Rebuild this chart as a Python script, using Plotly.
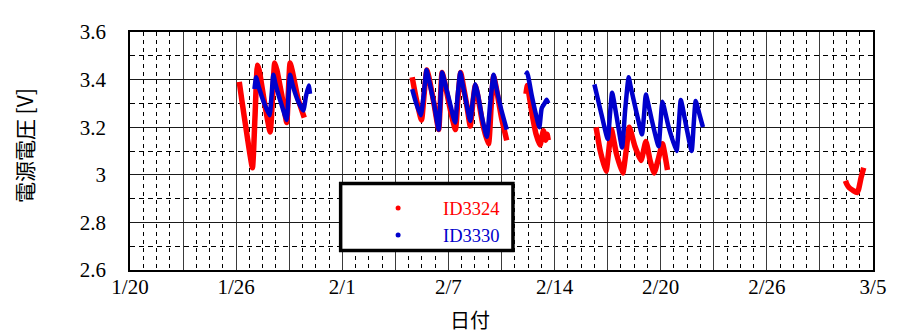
import plotly.graph_objects as go

# x values: days elapsed since 1/20 (axis runs 1/20 .. 3/5, 44 days)
AXIS_DAYS = 44
TICK_LABELS = ["1/20", "1/26", "2/1", "2/7", "2/14", "2/20", "2/26", "3/5"]

# ID3324 (red) - None separates recording periods
id3324_x = [6.47, 6.65, 6.86, 7.05, 7.25, 7.40, 7.55, 7.65, 7.95, 8.30, 8.45, 8.57, 8.70, 9.00, 9.28,
            9.38, 9.48, 9.60, 9.95, 10.32, None,
            16.71, 16.95, 17.26, 17.42, 17.58, 17.70, 18.00, 18.28, 18.38, 18.48, 18.60, 18.95, 19.27,
            19.42, 19.58, 19.70, 19.95, 20.15, 20.30, 20.45, 20.60, 20.90, 21.23, 21.38, 21.53, 21.65,
            22.00, 22.31, None,
            23.45, 23.53, 23.80, 24.05, 24.28, 24.48, 24.62, 24.70, 24.77, None,
            27.60, 27.85, 28.19, 28.35, 28.51, 28.80, 29.18, 29.38, 29.57, 29.90, 30.26, 30.55, 30.80,
            31.04, 31.30, 31.53, 31.83, None,
            42.37, 42.45, 42.60, 42.80, 43.05, 43.15, 43.30, 43.45]
id3324_v = [3.39, 3.30, 3.20, 3.11, 3.03, 3.24, 3.46, 3.44, 3.31, 3.18, 3.34, 3.47, 3.44, 3.33, 3.22,
            3.35, 3.47, 3.44, 3.32, 3.24, None,
            3.41, 3.32, 3.23, 3.34, 3.44, 3.41, 3.30, 3.19, 3.31, 3.43, 3.40, 3.28, 3.19,
            3.32, 3.43, 3.39, 3.29, 3.205, 3.30, 3.375, 3.33, 3.21, 3.13, 3.28, 3.415, 3.38,
            3.24, 3.145, None,
            3.34, 3.375, 3.26, 3.17, 3.125, 3.185, 3.145, 3.17, 3.145, None,
            3.20, 3.10, 3.015, 3.10, 3.19, 3.09, 3.008, 3.10, 3.20, 3.12, 3.06, 3.14, 3.06,
            3.008, 3.07, 3.13, 3.02, None,
            2.975, 2.96, 2.945, 2.935, 2.925, 2.94, 2.99, 3.03]

# ID3330 (blue)
id3330_x = [7.37, 7.47, 7.62, 7.95, 8.26, 8.38, 8.49, 8.62, 8.95, 9.28, 9.38, 9.48, 9.62, 9.95, 10.26,
            10.42, 10.58, 10.66, None,
            16.71, 16.95, 17.22, 17.40, 17.56, 17.70, 18.00, 18.28, 18.38, 18.48, 18.60, 18.95, 19.25,
            19.40, 19.56, 19.70, 19.95, 20.15, 20.30, 20.45, 20.60, 20.85, 21.13, 21.33, 21.53, 21.65,
            22.00, 22.31, None,
            23.45, 23.52, 23.80, 24.05, 24.24, 24.38, 24.55, 24.67, 24.77, None,
            27.50, 27.90, 28.29, 28.42, 28.55, 28.85, 29.14, 29.32, 29.53, 29.65, 30.00, 30.32, 30.45,
            30.55, 30.90, 31.30, 31.42, 31.53, 31.90, 32.36, 32.50, 32.62, 32.95, 33.26, 33.38, 33.50,
            33.70, 33.93]
id3330_v = [3.36, 3.41, 3.37, 3.30, 3.25, 3.33, 3.42, 3.38, 3.30, 3.23, 3.33, 3.42, 3.38, 3.31, 3.27,
            3.33, 3.375, 3.34, None,
            3.36, 3.30, 3.25, 3.34, 3.44, 3.40, 3.30, 3.19, 3.31, 3.43, 3.40, 3.30, 3.22,
            3.33, 3.43, 3.38, 3.29, 3.226, 3.31, 3.38, 3.34, 3.24, 3.16, 3.30, 3.42, 3.38,
            3.27, 3.19, None,
            3.42, 3.43, 3.33, 3.25, 3.20, 3.28, 3.30, 3.315, 3.30, None,
            3.38, 3.26, 3.15, 3.25, 3.345, 3.23, 3.115, 3.27, 3.41, 3.37, 3.26, 3.17, 3.26,
            3.337, 3.23, 3.12, 3.22, 3.307, 3.20, 3.10, 3.21, 3.314, 3.20, 3.10, 3.21, 3.31,
            3.26, 3.20]

RED = "#ff0000"
BLUE = "#0000cc"
SERIF = "Liberation Serif"
CJK = "Noto Sans CJK JP"

n_major = 14
major_step = AXIS_DAYS / n_major
tickvals = [k * major_step for k in range(n_major + 1)]
ticktext = [TICK_LABELS[k // 2] if k % 2 == 0 else "" for k in range(n_major + 1)]

fig = go.Figure()
fig.add_trace(go.Scatter(x=id3324_x, y=id3324_v, mode="lines", connectgaps=False,
                         line=dict(color=RED, width=5.5, shape="spline", smoothing=0.5),
                         showlegend=False, legendgroup="a"))
fig.add_trace(go.Scatter(x=id3330_x, y=id3330_v, mode="lines", connectgaps=False,
                         line=dict(color=BLUE, width=4.5, shape="spline", smoothing=0.5),
                         showlegend=False, legendgroup="b"))
# legend entries (dot symbols)
fig.add_trace(go.Scatter(x=[None], y=[None], mode="markers", legendgroup="a",
                         name='<span style="color:#ff0000">ID3324</span>',
                         marker=dict(color=RED, size=5)))
fig.add_trace(go.Scatter(x=[None], y=[None], mode="markers", legendgroup="a",
                         name='<span style="color:#0000cc">ID3330</span>',
                         marker=dict(color=BLUE, size=5)))

# page has an 8px body margin; plot area targeted at page px x 130..876, y 25..270
OFF = 8
W, H = 898 - OFF, 333 - OFF
L, T = 130 - OFF, 25 - OFF
R, B = 22, 63
pw, ph = 746, 245

def px2x(px):
    return (px - 130) / pw

def py2y(py):
    return 1 - (py - 25) / ph

fig.update_layout(
    width=W, height=H,
    margin=dict(l=L, r=R, t=T, b=B),
    paper_bgcolor="white", plot_bgcolor="white",
    font=dict(family=SERIF, size=21, color="black"),
    legend=dict(x=px2x(354), y=py2y(187), xanchor="left", yanchor="top",
                bgcolor="rgba(0,0,0,0)", borderwidth=0,
                font=dict(family=SERIF, size=18.5), itemwidth=80, tracegroupgap=0),
    shapes=[dict(type="rect", xref="paper", yref="paper",
                 x0=px2x(341.5), x1=px2x(514.5), y0=py2y(250), y1=py2y(181),
                 line=dict(color="black", width=3.5), fillcolor="white", layer="above")],
    annotations=[
        dict(text="日付", xref="paper", yref="paper", x=px2x(471), y=py2y(321),
             showarrow=False, font=dict(family=CJK, size=20, color="black"),
             xanchor="center", yanchor="middle"),
        dict(text="電源電圧 [V]", xref="paper", yref="paper", x=px2x(23), y=py2y(142),
             showarrow=False, textangle=-90, font=dict(family=CJK, size=21, color="black"),
             xanchor="center", yanchor="middle"),
    ],
)

fig.update_xaxes(
    range=[0, AXIS_DAYS], tickmode="array", tickvals=tickvals, ticktext=ticktext,
    showgrid=True, gridcolor="#3a3a3a", gridwidth=1, zeroline=False,
    showline=True, linecolor="black", linewidth=1.5, mirror=True,
    ticks="", ticklabelstandoff=-3,
    minor=dict(tick0=0, dtick=major_step / 4, showgrid=True, gridcolor="black",
               griddash="4px,4px", gridwidth=1),
)
fig.update_yaxes(
    range=[2.6, 3.6], tick0=2.6, dtick=0.2,
    showgrid=True, gridcolor="#1a1a1a", gridwidth=1, zeroline=False,
    showline=True, linecolor="black", linewidth=1.5, mirror=True,
    ticks="", ticklabelstandoff=18,
    minor=dict(tick0=2.6, dtick=0.1, showgrid=True, gridcolor="black",
               griddash="5px,4px", gridwidth=1),
)

fig.write_html("out.html")
